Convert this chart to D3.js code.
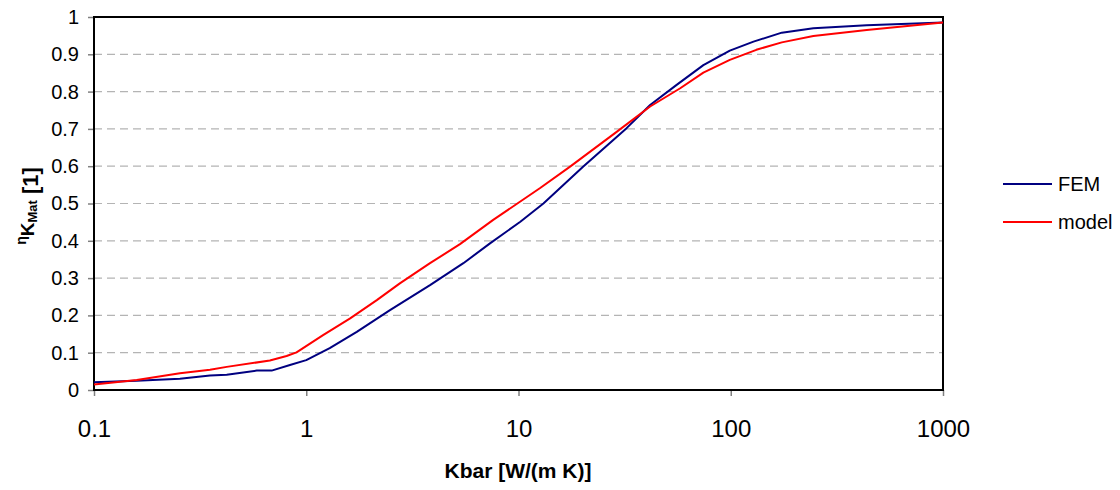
<!DOCTYPE html>
<html>
<head>
<meta charset="utf-8">
<script src="https://cdn.jsdelivr.net/npm/d3@7/dist/d3.min.js"></script>
<style>
  html, body { margin: 0; padding: 0; background: #fff; }
  svg { display: block; font-family: Arial, "Liberation Sans", sans-serif; }
</style>
</head>
<body>
<svg id="chart" width="1120" height="490"></svg>
<script>
// Conductivity of the bar (log axis) and efficiency values for both series
const kbarFEM = [0.1, 0.159, 0.254, 0.352, 0.422, 0.585, 0.687, 0.838, 1.0, 1.29, 1.73, 2.48, 3.83, 5.5, 7.34, 10.2, 13.1, 20.2, 32.3, 41.7, 55.6, 74.3, 99, 128, 174, 245, 437, 1000];
const etaFEM  = [0.021, 0.025, 0.030, 0.039, 0.041, 0.052, 0.052, 0.067, 0.080, 0.112, 0.156, 0.214, 0.281, 0.340, 0.393, 0.451, 0.500, 0.599, 0.702, 0.764, 0.818, 0.871, 0.910, 0.934, 0.958, 0.970, 0.978, 0.985];

const kbarModel = [0.1, 0.159, 0.254, 0.352, 0.422, 0.674, 0.808, 0.90, 1.2, 1.61, 2.15, 2.76, 3.83, 5.3, 7.6, 12.6, 17.5, 29, 41.7, 57.8, 74.3, 99, 132, 174, 245, 437, 1000];
const etaModel  = [0.015, 0.027, 0.045, 0.054, 0.062, 0.079, 0.091, 0.101, 0.147, 0.192, 0.241, 0.286, 0.340, 0.391, 0.456, 0.541, 0.599, 0.692, 0.760, 0.809, 0.851, 0.885, 0.912, 0.932, 0.949, 0.965, 0.985];

const xTicks = [0.1, 1, 10, 100, 1000];
const yTicks = [0, 0.1, 0.2, 0.3, 0.4, 0.5, 0.6, 0.7, 0.8, 0.9, 1];

const seriesNames  = ["FEM", "model"];
const seriesColors = ["#000080", "#ff0000"];

const svg = d3.select("#chart");
const plot = { left: 94, right: 943, top: 17, bottom: 390 };

const x = d3.scaleLog().domain([0.1, 1000]).range([plot.left, plot.right]);
const y = d3.scaleLinear().domain([0, 1]).range([plot.bottom, plot.top]);

// dashed horizontal gridlines
svg.append("g")
  .selectAll("line")
  .data(yTicks.filter(d => d > 0 && d < 1))
  .join("line")
  .attr("x1", plot.left).attr("x2", plot.right)
  .attr("y1", d => y(d)).attr("y2", d => y(d))
  .attr("stroke", "#b4b4b4")
  .attr("stroke-width", 1.2)
  .attr("stroke-dasharray", "8,5");

// y axis
const yAxis = svg.append("g")
  .attr("transform", `translate(${plot.left},0)`)
  .call(d3.axisLeft(y).tickValues(yTicks).tickFormat(d3.format("")).tickSize(6).tickPadding(9));
yAxis.select(".domain").remove();
yAxis.selectAll(".tick line").attr("stroke", "#808080").attr("stroke-width", 1.5);
yAxis.selectAll(".tick text")
  .attr("font-size", 20).attr("fill", "#000")
  .attr("font-family", "Arial, 'Liberation Sans', sans-serif");

// x axis
const xAxis = svg.append("g")
  .attr("transform", `translate(0,${plot.bottom})`)
  .call(d3.axisBottom(x).tickValues(xTicks).tickFormat(d => String(d)).tickSize(6).tickPadding(24));
xAxis.select(".domain").remove();
xAxis.selectAll(".tick line").attr("stroke", "#808080").attr("stroke-width", 1.5);
xAxis.selectAll(".tick text")
  .attr("font-size", 24).attr("fill", "#000")
  .attr("font-family", "Arial, 'Liberation Sans', sans-serif");

// plot frame
svg.append("rect")
  .attr("x", plot.left).attr("y", plot.top)
  .attr("width", plot.right - plot.left).attr("height", plot.bottom - plot.top)
  .attr("fill", "none").attr("stroke", "#000").attr("stroke-width", 2);

// series lines
const line = d3.line().x(d => x(d[0])).y(d => y(d[1]));
const series = [
  d3.zip(kbarFEM, etaFEM),
  d3.zip(kbarModel, etaModel)
];
svg.append("g")
  .selectAll("path")
  .data(series)
  .join("path")
  .attr("d", line)
  .attr("fill", "none")
  .attr("stroke", (d, i) => seriesColors[i])
  .attr("stroke-width", 2)
  .attr("stroke-linejoin", "round");

// legend
const legend = svg.append("g");
seriesNames.forEach((name, i) => {
  const ly = 184 + i * 38;
  legend.append("line")
    .attr("x1", 1003).attr("x2", 1052)
    .attr("y1", ly).attr("y2", ly)
    .attr("stroke", seriesColors[i]).attr("stroke-width", 2);
  legend.append("text")
    .attr("x", 1058).attr("y", ly + 7)
    .attr("font-size", 20)
    .text(name);
});

// x axis title
svg.append("text")
  .attr("x", 518).attr("y", 478)
  .attr("text-anchor", "middle")
  .attr("font-size", 21).attr("font-weight", "bold")
  .text("Kbar [W/(m K)]");

// y axis title: eta with K_Mat subscript
const yt = svg.append("text")
  .attr("transform", "translate(38,206) rotate(-90)")
  .attr("text-anchor", "middle")
  .attr("font-weight", "bold");
yt.append("tspan").attr("font-size", 14).attr("dy", -12).text("η");
yt.append("tspan").attr("font-size", 19).attr("dy", 8).text("K");
yt.append("tspan").attr("font-size", 13).attr("dy", 3).text("Mat");
yt.append("tspan").attr("font-size", 22).attr("dy", 1).text(" [1]");
</script>
</body>
</html>
